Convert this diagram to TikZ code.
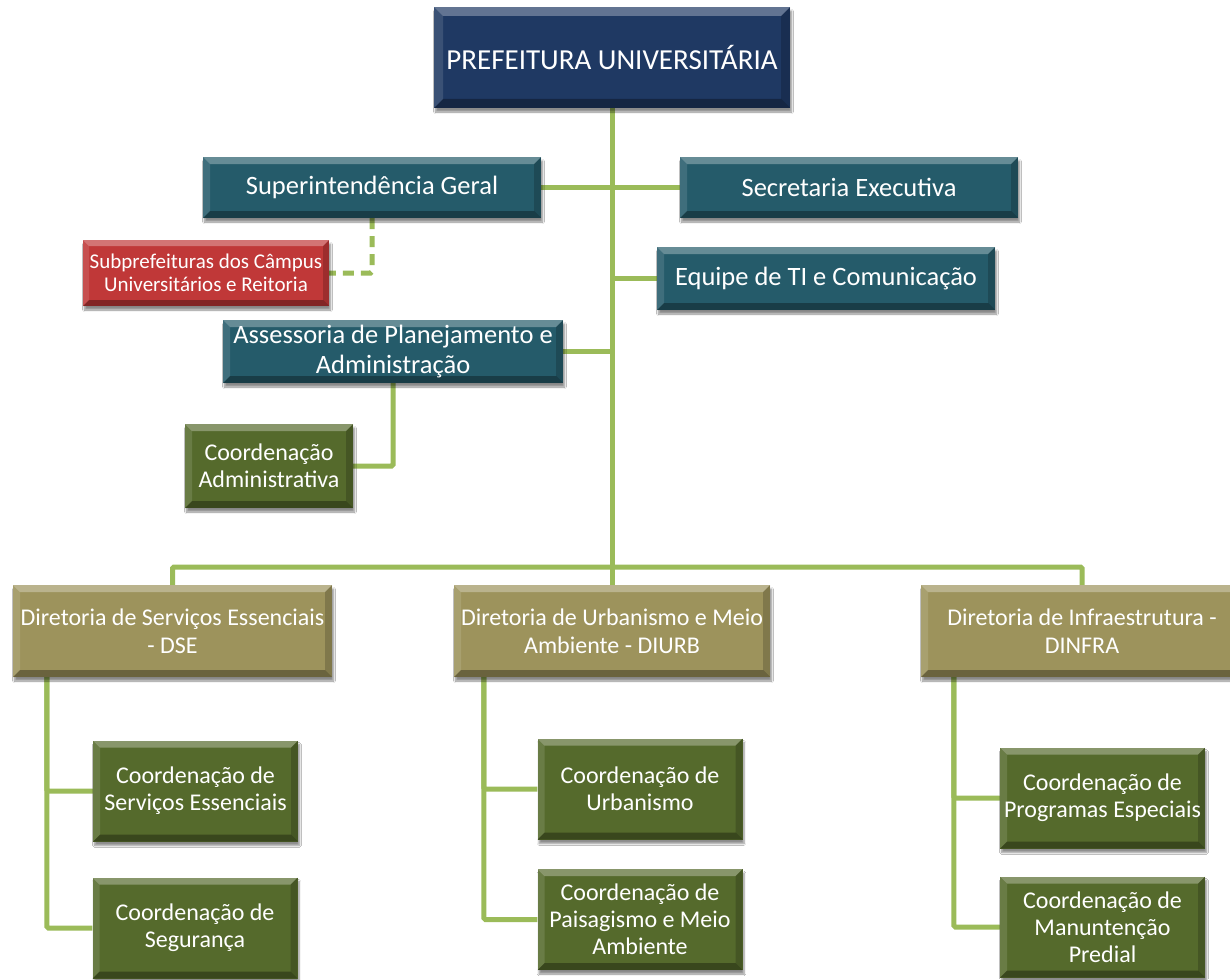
\documentclass[tikz,border=0pt]{standalone}
\usepackage{fontspec}
\setmainfont{Carlito}
\usetikzlibrary{shadows.blur,backgrounds}
\definecolor{navyc}{RGB}{31,57,99}
\definecolor{tealc}{RGB}{37,91,106}
\definecolor{redc}{RGB}{192,56,56}
\definecolor{olivec}{RGB}{157,147,92}
\definecolor{greenc}{RGB}{85,106,44}
\definecolor{linec}{RGB}{155,187,89}
\begin{document}
\begin{tikzpicture}[x=1pt,y=-1pt,
  box/.style={rectangle, inner sep=1pt, text=white, align=center,
    blur shadow={shadow xshift=1.5pt, shadow yshift=-4pt, shadow blur steps=6, shadow opacity=45},
    path picture={
      \fill[white,opacity=0.30] (path picture bounding box.north west) -- (path picture bounding box.north east)
        -- ([xshift=-#1,yshift=-#1]path picture bounding box.north east) -- ([xshift=#1,yshift=-#1]path picture bounding box.north west) -- cycle;
      \fill[white,opacity=0.12] (path picture bounding box.north west) -- ([xshift=#1,yshift=-#1]path picture bounding box.north west)
        -- ([xshift=#1,yshift=#1]path picture bounding box.south west) -- (path picture bounding box.south west) -- cycle;
      \fill[black,opacity=0.18] (path picture bounding box.north east) -- ([xshift=-#1,yshift=-#1]path picture bounding box.north east)
        -- ([xshift=-#1,yshift=#1]path picture bounding box.south east) -- (path picture bounding box.south east) -- cycle;
      \fill[black,opacity=0.32] (path picture bounding box.south west) -- (path picture bounding box.south east)
        -- ([xshift=-#1,yshift=#1]path picture bounding box.south east) -- ([xshift=#1,yshift=#1]path picture bounding box.south west) -- cycle;
    }},
  box/.default=7pt,
  topbox/.style={box=9pt, fill=navyc, font=\fontsize{29}{33}\selectfont},
  secbox/.style={box, fill=tealc, font=\fontsize{26.5}{30}\selectfont},
  redbox/.style={box=6pt, fill=redc, font=\fontsize{21}{23.5}\selectfont},
  dirbox/.style={box, fill=olivec, font=\fontsize{24}{28}\selectfont},
  coordbox/.style={box, fill=greenc, font=\fontsize{24}{27}\selectfont},
  conn/.style={draw=linec, line width=5pt, rounded corners=1.5pt},
  dashconn/.style={conn, dash pattern=on 11pt off 7pt}
]
\useasboundingbox (0,0) rectangle (1230,979);

\node[topbox, minimum width=356pt, minimum height=101pt] (top) at (612,57.5) {PREFEITURA UNIVERSITÁRIA};
\node[secbox, minimum width=338pt, minimum height=61pt] (sup) at (372,187.5) {Superintendência Geral};
\node[secbox, minimum width=338pt, minimum height=61pt] (sec) at (849,187.5) {Secretaria Executiva};
\node[redbox, minimum width=246pt, minimum height=66pt] (sub) at (206,273) {Subprefeituras dos Câmpus\\Universitários e Reitoria};
\node[secbox, minimum width=338pt, minimum height=63pt] (equipe) at (826,278.5) {Equipe de TI e Comunicação};
\node[secbox, minimum width=340pt, minimum height=63pt] (assess) at (393,351.5) {Assessoria de Planejamento e\\Administração};
\node[coordbox, minimum width=168pt, minimum height=84pt] (cadm) at (269,466) {Coordenação\\Administrativa};

\node[dirbox, minimum width=319pt, minimum height=92pt] (dse) at (172.5,631) {Diretoria de Serviços Essenciais\\- DSE};
\node[dirbox, minimum width=316pt, minimum height=92pt] (diurb) at (612,631) {Diretoria de Urbanismo e Meio\\Ambiente - DIURB};
\node[dirbox, minimum width=322pt, minimum height=92pt] (dinfra) at (1082,631) {Diretoria de Infraestrutura -\\DINFRA};

\node[coordbox, minimum width=205pt, minimum height=101pt] (cse) at (195.5,791) {Coordenação de\\Serviços Essenciais};
\node[coordbox, minimum width=205pt, minimum height=101pt] (cseg) at (195,928) {Coordenação de\\Segurança};
\node[coordbox, minimum width=205pt, minimum height=101pt] (curb) at (640,789) {Coordenação de\\Urbanismo};
\node[coordbox, minimum width=205pt, minimum height=101pt] (cpais) at (640,919.5) {Coordenação de\\Paisagismo e Meio\\Ambiente};
\node[coordbox, minimum width=205pt, minimum height=101pt] (cprog) at (1102.5,798) {Coordenação de\\Programas Especiais};
\node[coordbox, minimum width=205pt, minimum height=101pt] (cman) at (1102.5,927) {Coordenação de\\Manuntenção\\Predial};

\coordinate (hub) at (612,567);

\begin{scope}[on background layer]
\fill[white] (0,0) rectangle (1230,979);
\draw[conn] (top.south) -- (diurb.north);
\draw[conn] (sup.east) -- (sec.west);
\draw[conn] (equipe.west) -- (equipe.west -| top.south);
\draw[conn] (assess.east) -- (assess.east -| top.south);
\draw[conn] (assess.south) |- (cadm.east);
\draw[dashconn] (sup.south) |- (sub.east);
\draw[conn] (dse.north) |- (hub) -| (dinfra.north);
\draw[conn] ([xshift=34pt]dse.south west) |- (cse.west);
\draw[conn] ([xshift=34pt]dse.south west) |- (cseg.west);
\draw[conn] ([xshift=30pt]diurb.south west) |- (curb.west);
\draw[conn] ([xshift=30pt]diurb.south west) |- (cpais.west);
\draw[conn] ([xshift=33pt]dinfra.south west) |- (cprog.west);
\draw[conn] ([xshift=33pt]dinfra.south west) |- (cman.west);
\end{scope}
\end{tikzpicture}
\end{document}
